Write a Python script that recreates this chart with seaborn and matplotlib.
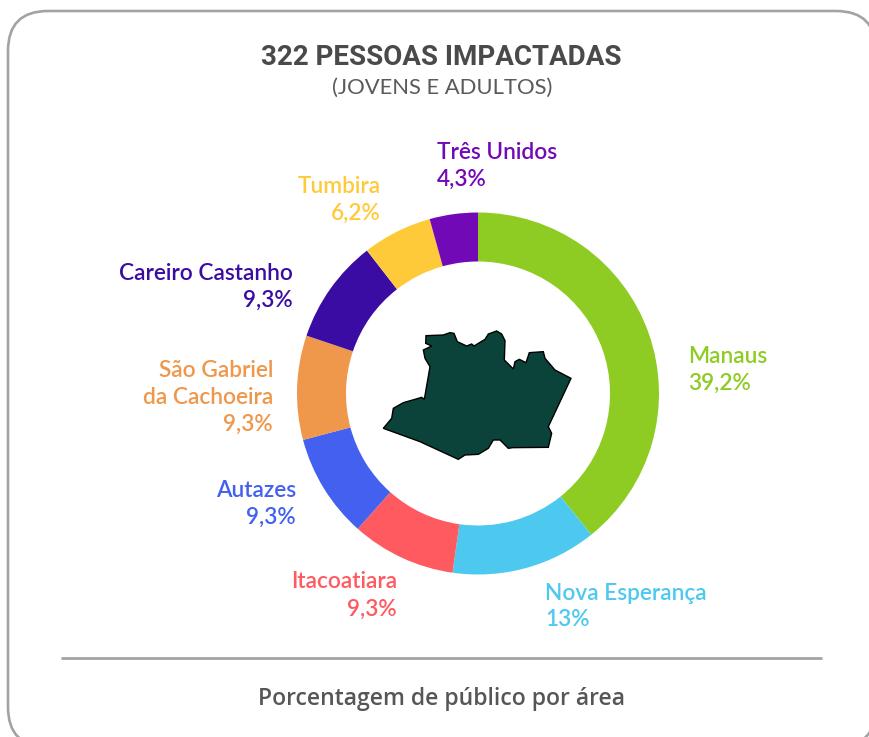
import matplotlib
matplotlib.use("Agg")
import matplotlib.pyplot as plt
from matplotlib.patches import FancyBboxPatch, Polygon
import seaborn as sns

areas = ["Manaus", "Nova Esperança", "Itacoatiara", "Autazes", "São Gabriel\nda Cachoeira",
         "Careiro Castanho", "Tumbira", "Três Unidos"]
values = [39.2, 13.0, 9.3, 9.3, 9.3, 9.3, 6.2, 4.3]
value_labels = ["39,2%", "13%", "9,3%", "9,3%", "9,3%", "9,3%", "6,2%", "4,3%"]
colors = ["#8ECC24", "#4DC9F0", "#FF5A5F", "#4361EE", "#EF974A", "#3A0CA3", "#FFCA3A", "#7209B7"]
title = "322 PESSOAS IMPACTADAS"
subtitle = "(JOVENS E ADULTOS)"
caption = "Porcentagem de público por área"

label_anchor = [(688, 356, "left"), (545, 593, "left"), (397, 582, "right"), (296, 490, "right"),
                (273, 370, "right"), (293, 273, "right"), (381, 186, "right"), (437, 152, "left")]

map_outline = [(40,325),(65,295),(70,265),(100,248),(135,238),(155,232),(163,238),(180,140),(165,115),
               (160,90),(185,78),(167,70),(168,47),(220,45),(240,38),(252,40),(262,65),(290,78),(305,72),
               (312,78),(345,58),(355,42),(380,33),(395,42),(405,62),(403,120),(430,147),(435,125),
               (448,118),(468,128),(478,98),(520,95),(525,115),(555,150),(603,175),(535,320),(545,340),
               (535,382),(428,383),(415,385),(390,360),(370,360),(355,385),(325,403),(285,405),(265,418),
               (150,365)]

sns.set_theme(style="white")
plt.rcParams["font.family"] = ["Lato", "DejaVu Sans"]

W, H = 870, 737
fig = plt.figure(figsize=(W / 100, H / 100), dpi=100, facecolor="white")

# Overlay in pixel coordinates
bg = fig.add_axes([0, 0, 1, 1])
bg.set_xlim(0, W)
bg.set_ylim(H, 0)
bg.axis("off")

bg.add_patch(FancyBboxPatch((8 + 40, 11 + 40), 876 - 8 - 80, 747 - 11 - 80,
                            boxstyle="round,pad=40,rounding_size=40",
                            fc="white", ec="#A3A3A3", lw=1.9, clip_on=True))
bg.plot([61, 822], [658, 658], color="#A3A3A3", lw=2.0, solid_capstyle="butt")

bg.text(441, 57, title, ha="center", va="center", fontsize=20, fontweight="bold",
        color="#4A4A4A", family="Roboto")
bg.text(442, 88, subtitle, ha="center", va="center", fontsize=15.8, color="#5A5A5A")
bg.text(442, 699, caption, ha="center", va="center", fontsize=16.6, fontweight="semibold",
        color="#565656", family="Open Sans")

# Donut
cx, cy, R = 478, 393.5, 181
pie_ax = fig.add_axes([(cx - R) / W, 1 - (cy + R) / H, 2 * R / W, 2 * R / H])
palette = sns.color_palette(colors)
pie_ax.pie(values, colors=palette, startangle=90, counterclock=False, radius=1.0,
           wedgeprops=dict(width=49 / 181, linewidth=0))
pie_ax.set_xlim(-1, 1)
pie_ax.set_ylim(-1, 1)
pie_ax.set_aspect("equal")

# Labels
for name, val, col, (x, y, ha) in zip(areas, value_labels, colors, label_anchor):
    lines = name.split("\n")
    for i, line in enumerate(lines + [val]):
        bg.text(x, y + i * 27, line, ha=ha, va="center", fontsize=16.3, fontweight="semibold", color=col)

# Map of Amazonas
bg.add_patch(Polygon([(370 + px / 3, 320 + py / 3) for px, py in map_outline], closed=True,
                     fc="#0B4239", ec="black", lw=1.0, zorder=5))

fig.savefig("out.png", dpi=100)
